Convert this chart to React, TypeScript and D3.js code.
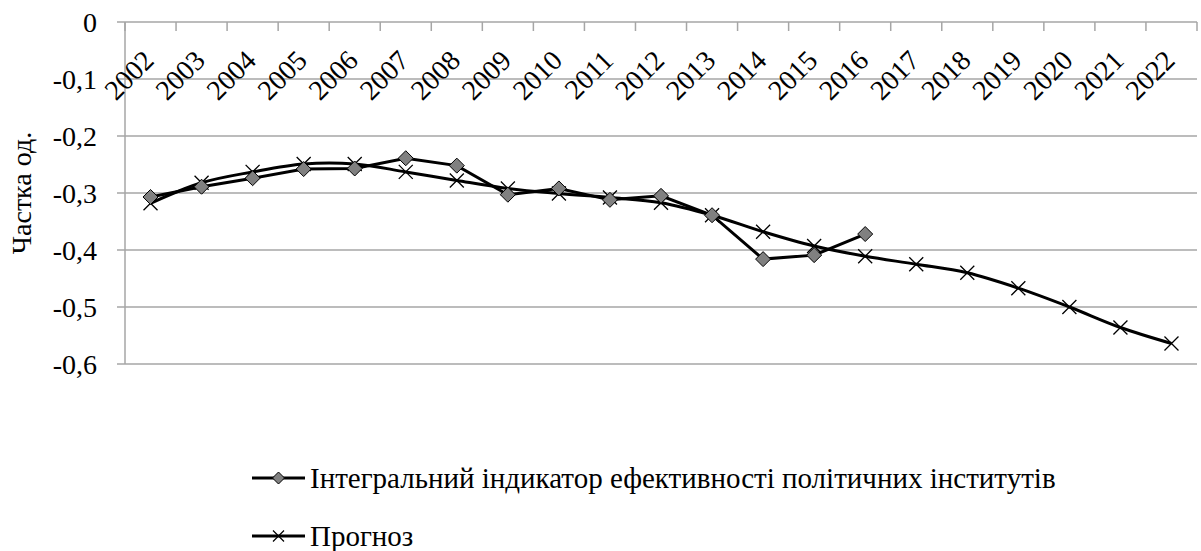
import { useEffect, useRef } from 'react';
import * as d3 from 'd3';

const years = [
  '2002', '2003', '2004', '2005', '2006', '2007', '2008', '2009', '2010', '2011', '2012',
  '2013', '2014', '2015', '2016', '2017', '2018', '2019', '2020', '2021', '2022',
];

// Інтегральний індикатор (2002-2016)
const indicator = [
  -0.307, -0.289, -0.274, -0.258, -0.257, -0.239, -0.252, -0.303, -0.292, -0.312,
  -0.305, -0.339, -0.416, -0.409, -0.372,
];

// Прогноз (2002-2022)
const forecast = [
  -0.318, -0.282, -0.263, -0.249, -0.249, -0.263, -0.278, -0.292, -0.301, -0.308,
  -0.317, -0.339, -0.368, -0.393, -0.411, -0.425, -0.44, -0.467, -0.5, -0.536, -0.564,
];

const yTicks = [0, -0.1, -0.2, -0.3, -0.4, -0.5, -0.6];

const legendLabels = ['Інтегральний індикатор ефективності політичних інститутів', 'Прогноз'];

const W = 1201;
const H = 551;
const FONT = '"Liberation Serif"';
const GRID = '#a6a6a6';

export default function App() {
  const svgRef = useRef<SVGSVGElement>(null);

  useEffect(() => {
    if (!svgRef.current) return;
    const margin = { top: 22, right: 4, bottom: 187, left: 125 };
    const svg = d3.select(svgRef.current);
    svg.selectAll('*').remove();

    const x = d3
      .scaleBand<string>()
      .domain(years)
      .range([margin.left, W - margin.right]);
    const y = d3
      .scaleLinear()
      .domain([0, -0.6])
      .range([margin.top, H - margin.bottom]);
    const cx = (i: number) => x(years[i])! + x.bandwidth() / 2;
    const x0 = margin.left;
    const x1 = W - margin.right;

    const txt = (sel: d3.Selection<SVGTextElement, any, any, any>, size: number) =>
      sel.style('font-family', FONT).attr('font-size', size).attr('fill', '#000');

    // gridlines + axes
    svg
      .selectAll('line.grid')
      .data(yTicks)
      .join('line')
      .attr('x1', x0 - 8)
      .attr('x2', x1)
      .attr('y1', (d) => y(d))
      .attr('y2', (d) => y(d))
      .attr('stroke', GRID)
      .attr('stroke-width', 1.5);

    svg
      .append('line')
      .attr('x1', x0)
      .attr('x2', x0)
      .attr('y1', y(0))
      .attr('y2', y(-0.6))
      .attr('stroke', GRID)
      .attr('stroke-width', 1.5);

    svg
      .selectAll('line.tick')
      .data([...years.map((yr) => x(yr)!), x1])
      .join('line')
      .attr('x1', (d) => d)
      .attr('x2', (d) => d)
      .attr('y1', y(0))
      .attr('y2', y(0) + 9)
      .attr('stroke', GRID)
      .attr('stroke-width', 1.5);

    // y labels
    svg
      .selectAll('text.ylab')
      .data(yTicks)
      .join('text')
      .call(txt, 28)
      .attr('x', 97)
      .attr('y', (d) => y(d) + 10)
      .attr('text-anchor', 'end')
      .text((d) => (d === 0 ? '0' : d.toFixed(1).replace('.', ',')));

    svg
      .append('text')
      .call(txt, 28)
      .attr('transform', `translate(31,${(y(0) + y(-0.6)) / 2}) rotate(-90)`)
      .attr('text-anchor', 'middle')
      .text('Частка од.');

    // year labels, rotated 45°
    svg
      .selectAll('text.xlab')
      .data(years)
      .join('text')
      .call(txt, 28)
      .attr('text-anchor', 'end')
      .attr('transform', (_, i) => `translate(${cx(i) + 5},62) rotate(-45)`)
      .text((d) => d);

    // series
    const line1 = d3
      .line<number>()
      .x((_, i) => cx(i))
      .y((d) => y(d));
    const line2 = d3
      .line<number>()
      .x((_, i) => cx(i))
      .y((d) => y(d))
      .curve(d3.curveCatmullRom.alpha(0.5));

    const diamond = (px: number, py: number, r: number) =>
      `M${px},${py - r}L${px + r},${py}L${px},${py + r}L${px - r},${py}Z`;
    const cross = (px: number, py: number, r: number) =>
      `M${px - r},${py - r}L${px + r},${py + r}M${px - r},${py + r}L${px + r},${py - r}`;

    svg.append('path').datum(forecast).attr('d', line2).attr('fill', 'none').attr('stroke', '#000').attr('stroke-width', 3);
    svg.append('path').datum(indicator).attr('d', line1).attr('fill', 'none').attr('stroke', '#000').attr('stroke-width', 3);

    svg
      .selectAll('path.cross')
      .data(forecast)
      .join('path')
      .attr('d', (d, i) => cross(cx(i), y(d), 7))
      .attr('fill', 'none')
      .attr('stroke', '#000')
      .attr('stroke-width', 1.3);

    svg
      .selectAll('path.diamond')
      .data(indicator)
      .join('path')
      .attr('d', (d, i) => diamond(cx(i), y(d), 7.5))
      .attr('fill', '#808080')
      .attr('stroke', '#000')
      .attr('stroke-width', 1);

    // legend
    legendLabels.forEach((lab, i) => {
      const ly = 478 + i * 58;
      svg.append('line').attr('x1', 252).attr('x2', 305).attr('y1', ly).attr('y2', ly).attr('stroke', '#000').attr('stroke-width', 3);
      if (i === 0) {
        svg.append('path').attr('d', diamond(278.5, ly, 6)).attr('fill', '#808080').attr('stroke', '#000').attr('stroke-width', 1);
      } else {
        svg.append('path').attr('d', cross(278.5, ly, 5.5)).attr('fill', 'none').attr('stroke', '#000').attr('stroke-width', 1.2);
      }
      svg.append('text').call(txt, 29).attr('x', 310).attr('y', ly + 10).text(lab);
    });
  }, []);

  return (
    <svg
      ref={svgRef}
      width={W}
      height={H}
      style={{ position: 'absolute', left: 0, top: 0, background: '#fff' }}
    />
  );
}
